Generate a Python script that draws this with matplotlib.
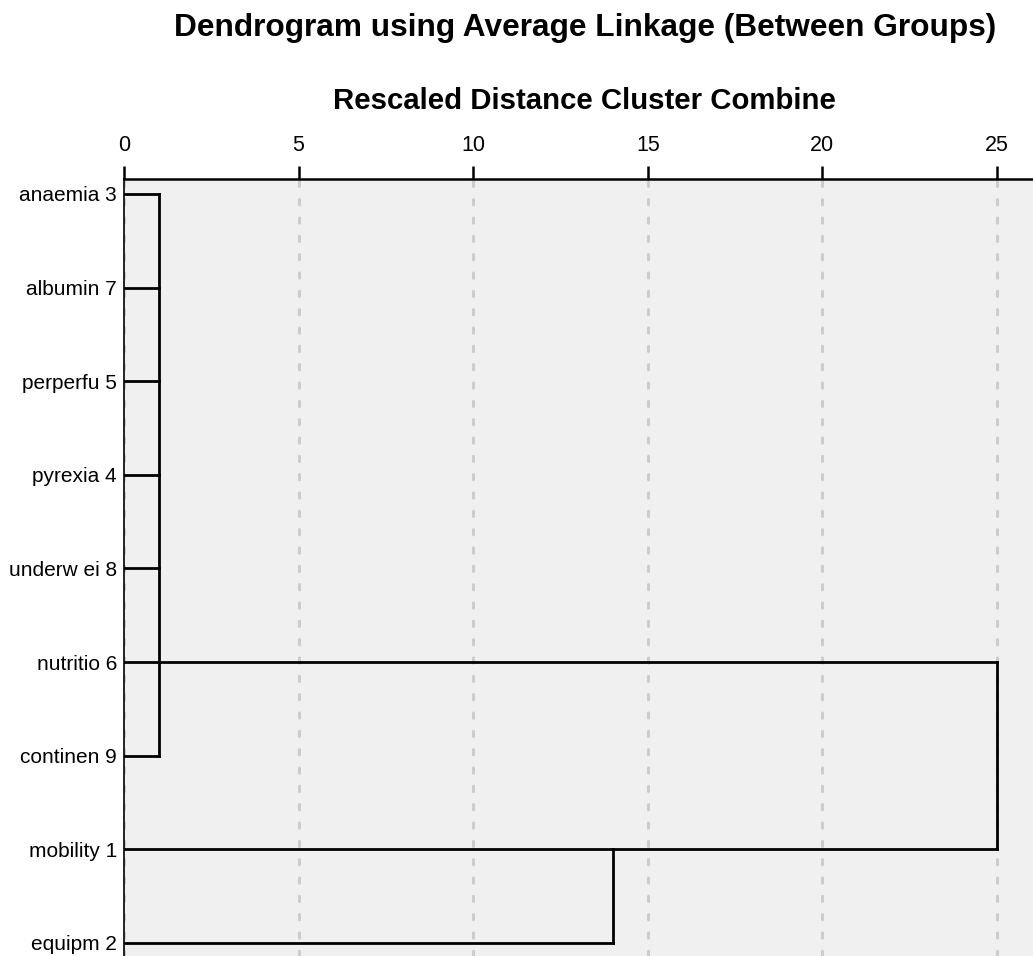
import numpy as np
import matplotlib.pyplot as plt

plt.rcParams['font.family'] = ['Liberation Sans', 'DejaVu Sans']

# leaves, top to bottom
labels = ["anaemia 3", "albumin 7", "perperfu 5", "pyrexia 4", "underw ei 8",
          "nutritio 6", "continen 9", "mobility 1", "equipm 2"]

# rescaled distances at which clusters combine
cluster_a_rows = [0, 1, 2, 3, 4, 5, 6]
cluster_a_dist = 1
cluster_b_rows = [7, 8]
cluster_b_dist = 14
final_dist = 25
final_rows = [5, 7]  # rows carrying each cluster into the final join

ticks = [0, 5, 10, 15, 20, 25]

fig = plt.figure(figsize=(10.33, 9.56), dpi=100)
ax = fig.add_axes([124 / 1033, 0, 909 / 1033, 777 / 956])
ax.set_facecolor('#f0f0f0')

lw = 2.0
col = 'black'

# cluster A
for r in cluster_a_rows:
    ax.plot([0, cluster_a_dist], [r, r], color=col, lw=lw, solid_capstyle='projecting')
ax.plot([cluster_a_dist, cluster_a_dist], [min(cluster_a_rows), max(cluster_a_rows)],
        color=col, lw=lw, solid_capstyle='projecting')

# cluster B
for r in cluster_b_rows:
    ax.plot([0, cluster_b_dist], [r, r], color=col, lw=lw, solid_capstyle='projecting')
ax.plot([cluster_b_dist, cluster_b_dist], [min(cluster_b_rows), max(cluster_b_rows)],
        color=col, lw=lw, solid_capstyle='projecting')

# final join
ax.plot([cluster_a_dist, final_dist], [final_rows[0], final_rows[0]], color=col, lw=lw,
        solid_capstyle='projecting')
ax.plot([cluster_b_dist, final_dist], [final_rows[1], final_rows[1]], color=col, lw=lw,
        solid_capstyle='projecting')
ax.plot([final_dist, final_dist], final_rows, color=col, lw=lw, solid_capstyle='projecting')

# dashed grid
for t in ticks:
    ax.axvline(t, color='#cccccc', lw=2.2, linestyle=(0, (1.7, 4.3)),
               dash_capstyle='round', zorder=0)

ax.set_xlim(0, 26.03)
ax.set_ylim(8.14, -0.16)

ax.xaxis.tick_top()
ax.set_xticks(ticks)
ax.set_xticklabels([str(t) for t in ticks])
ax.tick_params(axis='x', direction='out', length=9.5, width=1.8, pad=7, labelsize=15.5)

ax.set_yticks(range(len(labels)))
ax.set_yticklabels(labels)
ax.tick_params(axis='y', length=0, pad=5, labelsize=15)

ax.spines['right'].set_visible(False)
ax.spines['bottom'].set_visible(False)
ax.spines['top'].set_linewidth(1.8)
ax.spines['left'].set_linewidth(1.2)

fig.text(585 / 1033, 1 - 28 / 956, "Dendrogram using Average Linkage (Between Groups)",
         ha='center', va='center', fontsize=22.8, fontweight='bold')
fig.text(584 / 1033, 1 - 101 / 956, "Rescaled Distance Cluster Combine",
         ha='center', va='center', fontsize=21.2, fontweight='bold')

fig.savefig('out.png', dpi=100)
